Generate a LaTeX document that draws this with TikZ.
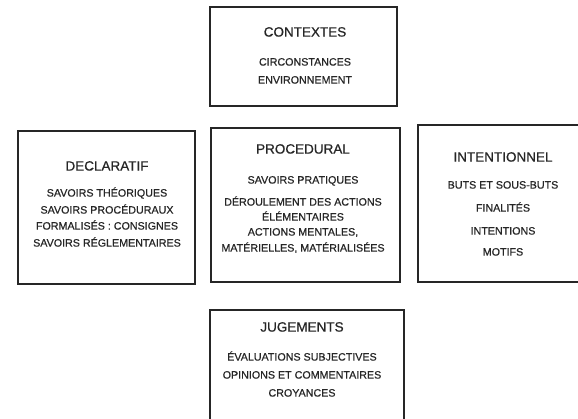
\documentclass[tikz,border=0pt]{standalone}
\usepackage{fontspec}
\setmainfont{Liberation Sans}
\newfontfamily\grasse[FakeBold=0.6]{Liberation Sans}
\usepackage{tikz}

\tikzset{
  cadre/.style={draw=black!85, line width=1.1pt, rectangle, inner sep=0pt},
  titre/.style={inner sep=0pt, text=black!85, font=\grasse\fontsize{13.5}{14}\selectfont, text height=.72em, text depth=0pt},
  ligne/.style={inner sep=0pt, text=black!85, font=\grasse\fontsize{10.7}{11}\selectfont, text height=.72em, text depth=0pt}
}

\begin{document}
\begin{tikzpicture}[x=1pt, y=-1pt]

\useasboundingbox[fill=white] (0,0) rectangle (578,419);

% les cinq cadres
\node[cadre, minimum width=187pt, minimum height=99pt]  (contextes)    at (303.5,56.5) {};
\node[cadre, minimum width=177pt, minimum height=153pt] (declaratif)   at (106.5,207.5) {};
\node[cadre, minimum width=189pt, minimum height=154pt] (procedural)   at (305.5,205) {};
\node[cadre, minimum width=180pt, minimum height=157pt] (intentionnel) at (508,203.5) {};
\node[cadre, minimum width=194pt, minimum height=115pt] (jugements)    at (307,367.5) {};

% CONTEXTES
\node[titre] (ctx-t) at (305,33) {CONTEXTES};
\node[ligne] (ctx-1) at (305,62) {CIRCONSTANCES};
\node[ligne] (ctx-2) at (305,80) {ENVIRONNEMENT};

% DECLARATIF
\node[titre] (dec-t) at (107,167) {DECLARATIF};
\node[ligne] (dec-1) at (107,193) {SAVOIRS THÉORIQUES};
\node[ligne] (dec-2) at (107,210) {SAVOIRS PROCÉDURAUX};
\node[ligne] (dec-3) at (107,226) {FORMALISÉS : CONSIGNES};
\node[ligne] (dec-4) at (107,243) {SAVOIRS RÉGLEMENTAIRES};

% PROCEDURAL
\node[titre] (pro-t) at (303,150) {PROCEDURAL};
\node[ligne] (pro-1) at (303,180) {SAVOIRS PRATIQUES};
\node[ligne] (pro-2) at (303,202) {DÉROULEMENT DES ACTIONS};
\node[ligne] (pro-3) at (303,217) {ÉLÉMENTAIRES};
\node[ligne] (pro-4) at (303,232) {ACTIONS MENTALES,};
\node[ligne] (pro-5) at (303,248) {MATÉRIELLES, MATÉRIALISÉES};

% INTENTIONNEL
\node[titre] (int-t) at (503,158) {INTENTIONNEL};
\node[ligne] (int-1) at (503,185) {BUTS ET SOUS-BUTS};
\node[ligne] (int-2) at (503,208) {FINALITÉS};
\node[ligne] (int-3) at (503,231) {INTENTIONS};
\node[ligne] (int-4) at (503,252) {MOTIFS};

% JUGEMENTS
\node[titre] (jug-t) at (302,328) {JUGEMENTS};
\node[ligne] (jug-1) at (302,357) {ÉVALUATIONS SUBJECTIVES};
\node[ligne] (jug-2) at (302,375) {OPINIONS ET COMMENTAIRES};
\node[ligne] (jug-3) at (302,393) {CROYANCES};

\end{tikzpicture}
\end{document}
